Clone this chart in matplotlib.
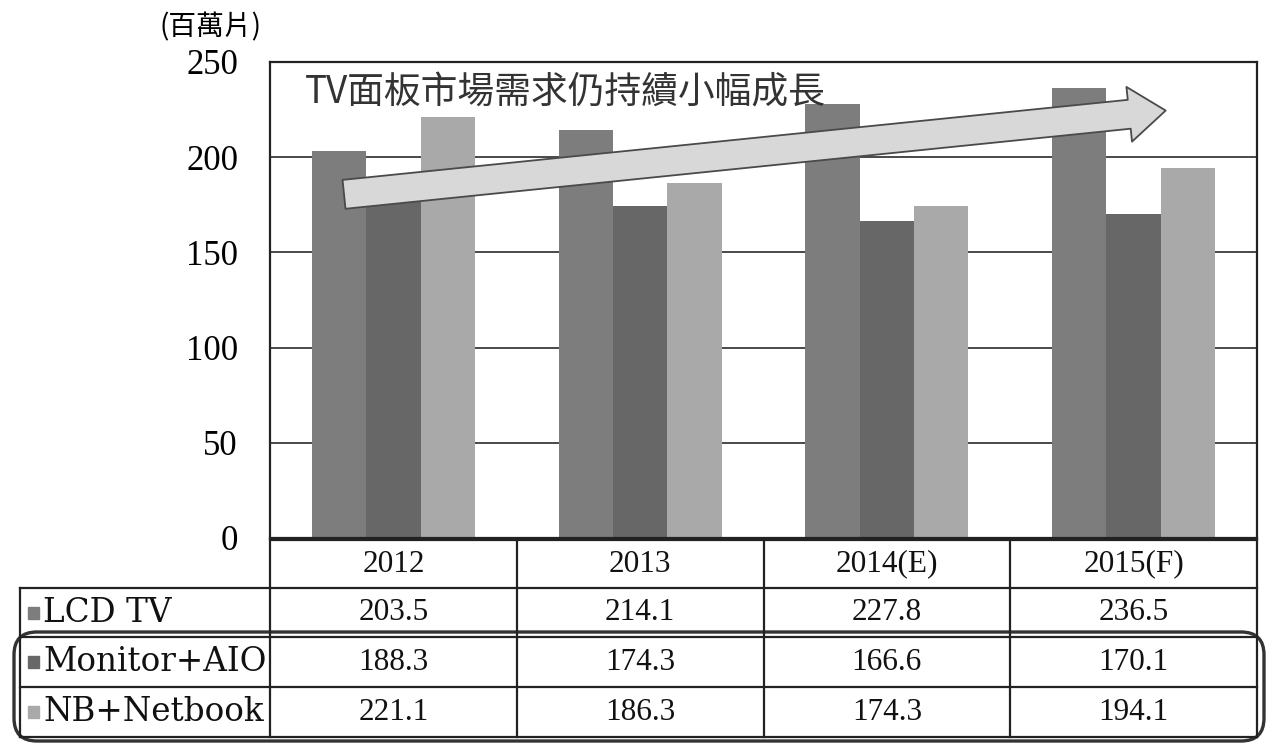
import matplotlib
matplotlib.use("Agg")
import matplotlib.pyplot as plt
import numpy as np
from matplotlib.patches import FancyBboxPatch, Rectangle
from matplotlib.lines import Line2D

# ---- data ------------------------------------------------------------------
years = ["2012", "2013", "2014(E)", "2015(F)"]
series = ["LCD TV", "Monitor+AIO", "NB+Netbook"]
lcd_tv = [203.5, 214.1, 227.8, 236.5]
monitor_aio = [188.3, 174.3, 166.6, 170.1]
nb_netbook = [221.1, 186.3, 174.3, 194.1]
values = [lcd_tv, monitor_aio, nb_netbook]
colors = ["#7d7d7d", "#676767", "#a9a9a9"]
y_ticks = [0, 50, 100, 150, 200, 250]

SERIF = ["Liberation Serif", "DejaVu Serif"]
WIDE_SERIF = ["DejaVu Serif"]
CJK = ["Noto Sans CJK TC", "DejaVu Sans"]

W, H = 1269, 748
fig = plt.figure(figsize=(W / 100, H / 100), dpi=100)

# axes box in pixels: x 270..1257, y 62..538
def fx(px):
    return px / W

def fy(py):
    return 1 - py / H

ax = fig.add_axes([fx(270), fy(538), fx(1257) - fx(270), fy(62) - fy(538)])

x = np.arange(len(years))
bw = 0.22
for i, (vals, c) in enumerate(zip(values, colors)):
    ax.bar(x + (i - 1) * bw, vals, width=bw, color=c, zorder=2)

ax.set_xlim(-0.5, len(years) - 0.5)
ax.set_ylim(0, 250)
ax.set_yticks(y_ticks)
ax.set_yticklabels([str(t) for t in y_ticks], family=SERIF, fontsize=25)
ax.tick_params(axis="y", length=0, pad=23)
ax.set_xticks([])
for yt in y_ticks[1:-1]:
    ax.axhline(yt, color="#2a2a2a", lw=1.2, zorder=1)
for s in ax.spines.values():
    s.set_linewidth(1.6)
    s.set_color("#222222")

# unit label
fig.text(fx(211), fy(27), "(百萬片)", family=CJK, fontsize=20,
         ha="center", va="center")

# headline and trend arrow
ax.text(-0.36, 244, "TV面板市場需求仍持續小幅成長", family=CJK, fontsize=26.5,
        ha="left", va="top", color="#333333", zorder=5)
ax.annotate("", xy=(3.13, 224.5), xytext=(-0.2, 180.5),
            arrowprops=dict(arrowstyle="simple,head_length=1.2,head_width=1.8,tail_width=0.95",
                            fc="#d8d8d8", ec="#4a4a4a", lw=1.3,
                            mutation_scale=22, shrinkA=0, shrinkB=0),
            zorder=4)

# ---- data table below the axes ---------------------------------------------
col_edges = np.linspace(270, 1257, len(years) + 1)
row_edges = [540, 588, 637, 687, 737]
left = 20
lk = dict(color="#222222", lw=1.6, transform=fig.transFigure)

# horizontal lines
fig.add_artist(Line2D([fx(270), fx(1257)], [fy(row_edges[0])] * 2, **lk))
for ry in row_edges[1:]:
    fig.add_artist(Line2D([fx(left), fx(1257)], [fy(ry)] * 2, **lk))
# vertical lines
for cx in col_edges:
    fig.add_artist(Line2D([fx(cx)] * 2, [fy(row_edges[0]), fy(row_edges[-1])], **lk))
fig.add_artist(Line2D([fx(left)] * 2, [fy(row_edges[1]), fy(row_edges[-1])], **lk))

tk = dict(family=SERIF, fontsize=22.5, ha="center", va="center", color="#111111")
for j, yr in enumerate(years):
    cxm = (col_edges[j] + col_edges[j + 1]) / 2
    fig.text(fx(cxm), fy((row_edges[0] + row_edges[1]) / 2), yr, **tk)
for i, (name, vals, c) in enumerate(zip(series, values, colors)):
    cy = (row_edges[i + 1] + row_edges[i + 2]) / 2
    fig.add_artist(Rectangle((fx(28), fy(cy + 6)), fx(11), fy(0) - fy(12),
                             color=c, transform=fig.transFigure))
    fig.text(fx(43), fy(cy), name, family=WIDE_SERIF, fontsize=23.5,
             ha="left", va="center", color="#111111")
    for j, v in enumerate(vals):
        cxm = (col_edges[j] + col_edges[j + 1]) / 2
        fig.text(fx(cxm), fy(cy), f"{v:.1f}", **tk)

# rounded highlight box around the monitor / notebook rows
fig.add_artist(FancyBboxPatch((fx(14), fy(741)), fx(1264) - fx(14), fy(632) - fy(741),
                              boxstyle="round,pad=0,rounding_size=0.018",
                              fc="none", ec="#333333", lw=2.4,
                              transform=fig.transFigure, mutation_aspect=W / H))

fig.savefig("out.png", dpi=100)
